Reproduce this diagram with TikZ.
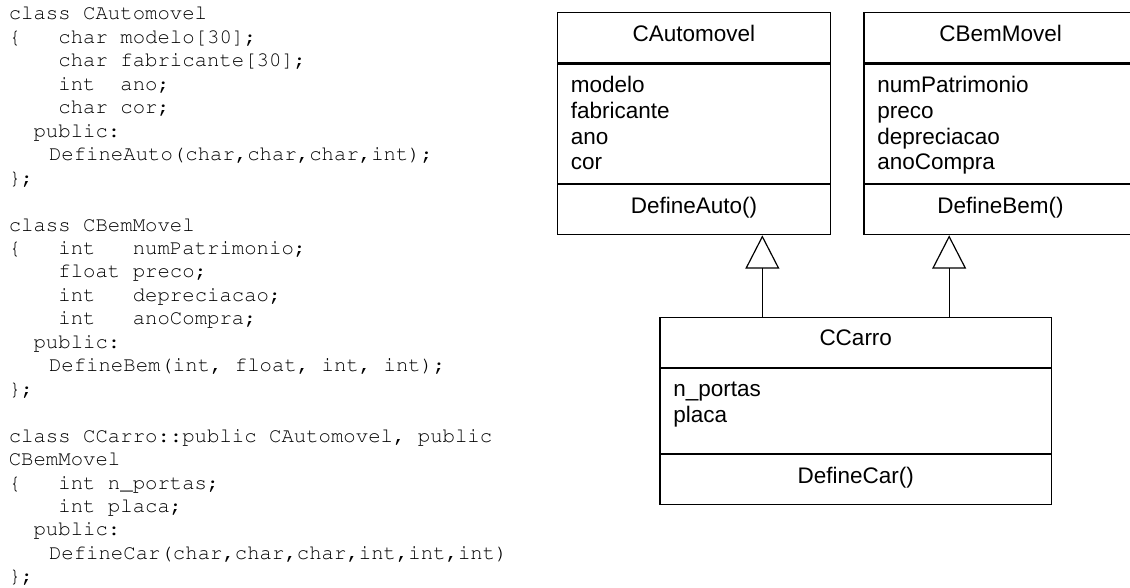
\documentclass[tikz,border=0pt]{standalone}
\usepackage[T1]{fontenc}
\usepackage{fontspec}
\setmainfont{Liberation Sans}
\newcommand\codefont{\fontencoding{T1}\fontfamily{pcr}\fontseries{m}\fontshape{n}%
  \fontsize{10.33pt}{11.7pt}\selectfont\fontdimen2\font=6.2pt\relax}
\usetikzlibrary{positioning,arrows.meta}

\begin{document}
\begin{tikzpicture}[x=0.5pt,y=-0.5pt,line width=0.6pt,
  font=\fontsize{11.25pt}{12.9pt}\selectfont,
  hd/.style={draw,inner sep=0pt,minimum width=#1,minimum height=25pt,text height=8pt,text depth=4.6pt},
  box/.style 2 args={draw,inner sep=0pt,minimum width=#1,minimum height=#2},
  txt/.style={align=left,inner sep=0pt,anchor=north west},
  code/.style={font=\codefont,inner sep=0pt,anchor=base west},
  inh/.style={-{Triangle[open,length=16.7pt,width=17pt]}}]
  \useasboundingbox (0,0) rectangle (1130,588);
  % C++ source, one node per line
  \foreach \n/\t in {0/{class~CAutomovel},
      1/{\{~~~char~modelo[30];},
      2/{~~~~char~fabricante[30];},
      3/{~~~~int~~ano;},
      4/{~~~~char~cor;},
      5/{~~public:},
      6/{~~~\kern1.5pt DefineAuto(char,char,char,int);},
      7/{\};},
      9/{class~CBemMovel},
      10/{\{~~~int~~~numPatrimonio;},
      11/{~~~~float~preco;},
      12/{~~~~int~~~depreciacao;},
      13/{~~~~int~~~anoCompra;},
      14/{~~public:},
      15/{~~~\kern1.5pt DefineBem(int,~float,~int,~int);},
      16/{\};},
      18/{class~CCarro::public~CAutomovel,~public},
      19/{CBemMovel},
      20/{\{~~~int~n\_portas;},
      21/{~~~~int~placa;},
      22/{~~public:},
      23/{~~~\kern1.5pt DefineCar(char,char,char,int,int,int)},
      24/{\};}}
    \node[code] (ln\n) at (8.2,{20+\n*23.45}) {\t};
  % base classes
  \node[hd=136.65pt,anchor=north west] (auto) at (556.7,12.3) {CAutomovel};
  \node[box={136.65pt}{59.7pt},below=0pt of auto] (autoa) {};
  \node[hd=136.65pt,below=0pt of autoa] (autom) {DefineAuto()};
  \node[txt] (autot) at ([xshift=6.75pt,yshift=-5.17pt]autoa.north west) {\strut modelo\\fabricante\\ano\\cor};
  \node[hd=136.65pt,anchor=north west] (bem) at (863.3,12.3) {CBemMovel};
  \node[box={136.65pt}{59.7pt},below=0pt of bem] (bema) {};
  \node[hd=136.65pt,below=0pt of bema] (bemm) {DefineBem()};
  \node[txt] (bemt) at ([xshift=6.75pt,yshift=-5.17pt]bema.north west) {\strut numPatrimonio\\preco\\depreciacao\\anoCompra};
  % derived class
  \node[hd=195.85pt,anchor=north west] (carro) at (659.3,316.7) {CCarro};
  \node[box={195.85pt}{42.5pt},below=0pt of carro] (carroa) {};
  \node[hd=195.85pt,below=0pt of carroa] (carrom) {DefineCar()};
  \node[txt] (carrot) at ([xshift=6.75pt,yshift=-5.17pt]carroa.north west) {\strut n\_portas\\placa};
  \coordinate (c1) at ([xshift=-46.7pt]carro.north);
  \coordinate (c2) at ([xshift=46.7pt]carro.north);
  \draw[inh] (c1) -- (c1 |- autom.south);
  \draw[inh] (c2) -- (c2 |- bemm.south);
\end{tikzpicture}
\end{document}
